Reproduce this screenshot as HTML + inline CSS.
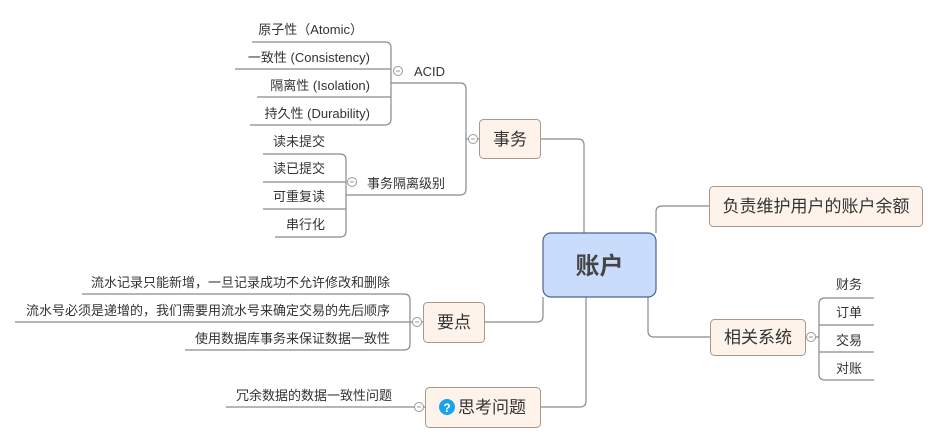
<!DOCTYPE html>
<html><head><meta charset="utf-8"><style>
html,body{margin:0;padding:0;background:#fff;}
svg{display:block;font-family:"Liberation Sans","Noto Sans CJK SC",sans-serif;}
</style></head><body>
<svg width="940" height="443" viewBox="0 0 940 443" xmlns="http://www.w3.org/2000/svg">
<g fill="none" stroke="#8a8a8a" stroke-width="1.2">
<!-- center connectors -->
<path d="M584 233 V145 Q584 139 578 139 H541"/>
<path d="M656 233 V212 Q656 206 662 206 H709"/>
<path d="M648 297 V331 Q648 337 654 337 H710"/>
<path d="M543 297 V316 Q543 322 537 322 H484"/>
<path d="M586 297 V401 Q586 407 580 407 H540"/>
<!-- 事务 branch -->
<path d="M479 139 H466"/>
<path d="M466 89 Q466 83 460 83 H391"/>
<path d="M466 89 V189 Q466 195 460 195 H346"/>
<path d="M391 48 Q391 42 385 42 H252"/>
<path d="M391 48 V119 Q391 125 385 125 H250"/>
<path d="M391 69 H235 M391 97 H257"/>
<path d="M346 160 Q346 154 340 154 H263"/>
<path d="M346 160 V231 Q346 237 340 237 H275"/>
<path d="M346 182 H263 M346 209 H263"/>
<!-- 要点 -->
<path d="M423 322 H410"/>
<path d="M410 300 Q410 294 404 294 H82"/>
<path d="M410 300 V344 Q410 350 404 350 H185"/>
<path d="M410 322 H15"/>
<!-- 思考问题 -->
<path d="M425 407 H226"/>
<!-- 相关系统 -->
<path d="M805 337 H819"/>
<path d="M819 304 Q819 298 825 298 H874"/>
<path d="M819 304 V374 Q819 380 825 380 H874"/>
<path d="M819 325 H874 M819 352 H874"/>
</g>
<!-- collapse circles -->
<g fill="#fff" stroke="#999" stroke-width="1">
<circle cx="473" cy="139" r="4.5"/><circle cx="398" cy="71" r="4.5"/><circle cx="352" cy="182" r="4.5"/>
<circle cx="417" cy="322" r="4.5"/><circle cx="419" cy="407" r="4.5"/><circle cx="811" cy="337" r="4.5"/>
</g>
<g stroke="#999" stroke-width="1">
<path d="M471 139h4M396 71h4M350 182h4M415 322h4M417 407h4M809 337h4"/>
</g>
<!-- boxes -->
<rect x="543" y="233" width="113" height="64" rx="8" fill="#c9dcfb" stroke="#4a6494" stroke-width="1.2"/>
<g fill="#fdf3ea" stroke="#a89888" stroke-width="1">
<rect x="479.5" y="119.5" width="61" height="39" rx="4"/>
<rect x="709.5" y="186.5" width="213" height="40" rx="4"/>
<rect x="710.5" y="319.5" width="95" height="36" rx="4"/>
<rect x="423.5" y="302.5" width="61" height="40" rx="4"/>
<rect x="425.5" y="387.5" width="115" height="40" rx="4"/>
</g>
<circle cx="447" cy="407" r="8" fill="#1aa3e8"/>
<text x="447" y="412" font-size="12" font-weight="bold" fill="#fff" text-anchor="middle">?</text>
<g fill="#333">
<text x="599.5" y="274" font-size="24" font-weight="bold" text-anchor="middle" fill="#444">账户</text>
<text x="510" y="145" font-size="17" text-anchor="middle">事务</text>
<text x="816" y="212" font-size="17" text-anchor="middle">负责维护用户的账户余额</text>
<text x="758" y="343" font-size="17" text-anchor="middle">相关系统</text>
<text x="454" y="328" font-size="17" text-anchor="middle">要点</text>
<text x="458" y="413" font-size="17">思考问题</text>
<g font-size="13">
<text x="414" y="76">ACID</text>
<text x="367" y="188">事务隔离级别</text>
<g text-anchor="end">
<text x="363" y="34">原子性（Atomic）</text>
<text x="370" y="62">一致性 (Consistency)</text>
<text x="370" y="90">隔离性 (Isolation)</text>
<text x="370" y="118">持久性 (Durability)</text>
<text x="325" y="146">读未提交</text>
<text x="325" y="173">读已提交</text>
<text x="325" y="201">可重复读</text>
<text x="325" y="229">串行化</text>
<text x="390" y="287">流水记录只能新增，一旦记录成功不允许修改和删除</text>
<text x="390" y="315">流水号必须是递增的，我们需要用流水号来确定交易的先后顺序</text>
<text x="390" y="343">使用数据库事务来保证数据一致性</text>
<text x="392" y="400">冗余数据的数据一致性问题</text>
</g>
<text x="836" y="289">财务</text>
<text x="836" y="317">订单</text>
<text x="836" y="345">交易</text>
<text x="836" y="373">对账</text>
</g>
</g>
</svg>
</body></html>
